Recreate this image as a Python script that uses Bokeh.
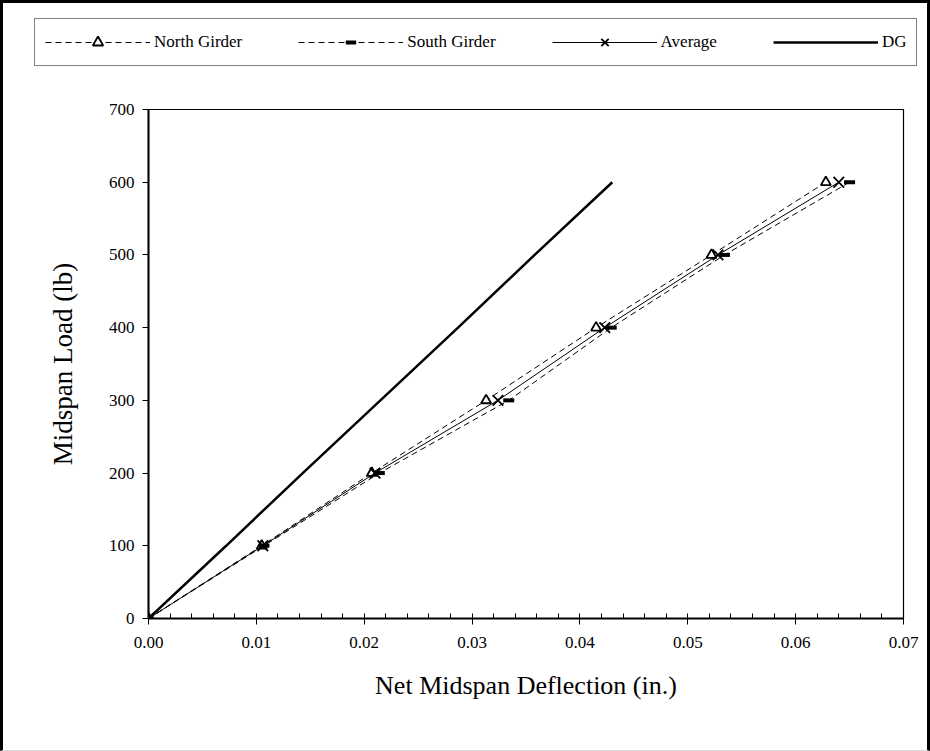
from bokeh.plotting import figure
from bokeh.layouts import column
from bokeh.models import (ColumnDataSource, Legend, LegendItem, SingleIntervalTicker,
                          NumeralTickFormatter, Range1d)
from bokeh.embed import file_html
from bokeh.resources import INLINE

# ---- data ----
loads = [0, 100, 200, 300, 400, 500, 600]
north_defl = [0.0, 0.0105, 0.0207, 0.0313, 0.0415, 0.0522, 0.0628]
south_defl = [0.0, 0.0107, 0.0214, 0.0334, 0.0429, 0.0534, 0.0650]
avg_defl = [0.0, 0.0106, 0.0210, 0.0324, 0.0423, 0.0528, 0.0640]
dg_defl = [0.0, 0.0072, 0.0143, 0.0215, 0.0287, 0.0358, 0.0430]
series_labels = ["North Girder", "South Girder", "Average", "DG"]

FONT = "Liberation Serif"

STY_N_LINE = dict(line_color="black", line_width=1, line_dash="6 4")
STY_N_MARK = dict(marker="triangle", size=10, fill_color="white", line_color="black",
                  line_width=1.8)
STY_S_LINE = dict(line_color="black", line_width=1, line_dash="6 4")
STY_S_MARK = dict(marker="dash", size=11, line_color="black", line_width=4)
STY_A_LINE = dict(line_color="black", line_width=1)
STY_A_MARK = dict(marker="x", size=15, line_color="black", line_width=1.8)
STY_D_LINE = dict(line_color="black", line_width=2.5)

src_n = ColumnDataSource(dict(x=north_defl, y=loads))
src_s = ColumnDataSource(dict(x=south_defl, y=loads))
src_a = ColumnDataSource(dict(x=avg_defl, y=loads))
src_d = ColumnDataSource(dict(x=dg_defl, y=loads))

# ---------------- main chart ----------------
p = figure(width=930, height=671, output_backend="svg", toolbar_location=None,
           x_range=Range1d(0, 0.07), y_range=Range1d(0, 700),
           min_border_left=145, min_border_right=30, min_border_top=29,
           min_border_bottom=133)
p.frame_align = False
p.styles = {"border-left": "3px solid black", "border-right": "3px solid black",
            "border-bottom": "1px solid #d8d8d8"}

p.line("x", "y", source=src_n, **STY_N_LINE)
p.scatter("x", "y", source=src_n, **STY_N_MARK)
p.line("x", "y", source=src_s, **STY_S_LINE)
p.scatter("x", "y", source=src_s, **STY_S_MARK)
p.line("x", "y", source=src_a, **STY_A_LINE)
p.scatter("x", "y", source=src_a, **STY_A_MARK)
p.line("x", "y", source=src_d, **STY_D_LINE)

p.grid.visible = False
p.outline_line_color = "black"
p.outline_line_width = 1.2
p.background_fill_color = "white"
p.border_fill_color = "white"

p.xaxis.ticker = SingleIntervalTicker(interval=0.01, num_minor_ticks=5)
p.xaxis.formatter = NumeralTickFormatter(format="0.00")
p.yaxis.ticker = SingleIntervalTicker(interval=100, num_minor_ticks=0)

for ax in (p.xaxis[0], p.yaxis[0]):
    ax.axis_line_color = "black"
    ax.axis_line_width = 2
    ax.major_tick_line_color = "black"
    ax.major_tick_line_width = 1
    ax.major_tick_out = 6
    ax.major_tick_in = 0
    ax.major_label_text_font = FONT
    ax.major_label_text_font_size = "17px"
    ax.major_label_text_color = "black"
    ax.axis_label_text_font = FONT
    ax.axis_label_text_font_style = "normal"
    ax.axis_label_text_color = "black"

p.xaxis.axis_label_text_font_size = "26px"
p.yaxis.axis_label_text_font_size = "27px"
p.xaxis.minor_tick_line_color = "black"
p.xaxis.minor_tick_in = 5
p.xaxis.minor_tick_out = 0
p.yaxis.minor_tick_line_color = None
p.xaxis.major_label_standoff = 12
p.yaxis.major_label_standoff = 8
p.xaxis.axis_label = "Net Midspan Deflection (in.)"
p.yaxis.axis_label = "Midspan Load (lb)"
p.xaxis.axis_label_standoff = 20
p.yaxis.axis_label_standoff = 28

# ---------------- legend strip (same sources, viewed out of range) ----------------
lg = figure(width=930, height=80, output_backend="svg", toolbar_location=None,
            x_range=Range1d(10, 11), y_range=Range1d(10000, 10001),
            x_axis_location=None, y_axis_location=None, min_border=0)
lg.frame_align = False
lg.styles = {"border-left": "3px solid black", "border-right": "3px solid black",
             "border-top": "3px solid black"}
lg.grid.visible = False
lg.outline_line_color = None
lg.background_fill_color = "white"
lg.border_fill_color = "white"

rn1 = lg.line("x", "y", source=src_n, **STY_N_LINE)
rn2 = lg.scatter("x", "y", source=src_n, **STY_N_MARK)
rs1 = lg.line("x", "y", source=src_s, **STY_S_LINE)
rs2 = lg.scatter("x", "y", source=src_s, **STY_S_MARK)
ra1 = lg.line("x", "y", source=src_a, **STY_A_LINE)
ra2 = lg.scatter("x", "y", source=src_a, **STY_A_MARK)
rd1 = lg.line("x", "y", source=src_d, **STY_D_LINE)

legend = Legend(items=[
    LegendItem(label=series_labels[0], renderers=[rn1, rn2]),
    LegendItem(label=series_labels[1], renderers=[rs1, rs2]),
    LegendItem(label=series_labels[2], renderers=[ra1, ra2]),
    LegendItem(label=series_labels[3], renderers=[rd1]),
], orientation="horizontal", location=(31, 17),
    glyph_width=105, glyph_height=26, label_standoff=4, spacing=56, padding=10,
    label_width=20,
    label_text_font=FONT, label_text_font_size="17px", label_text_color="black",
    border_line_color="black", border_line_width=1, background_fill_color="white",
    background_fill_alpha=1.0)
lg.add_layout(legend, "center")

layout = column(lg, p, spacing=0)

open("out.html", "w").write(file_html(layout, INLINE))
